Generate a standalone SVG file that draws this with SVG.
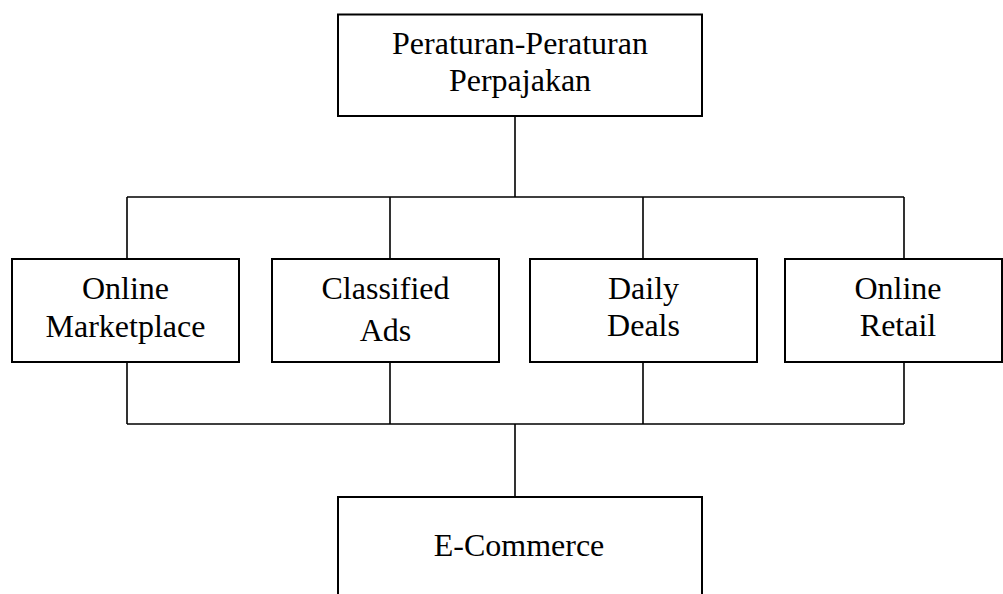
<svg xmlns="http://www.w3.org/2000/svg" width="1003" height="594" viewBox="0 0 1003 594">
<style>
.box{fill:#fff;stroke:#000;stroke-width:2}
.c{fill:none;stroke:#000;stroke-width:1.6}
text{font-family:"Liberation Serif","Times New Roman",serif;font-size:32px;fill:#000;text-anchor:middle}
</style>
<rect width="1003" height="594" fill="#fff"/>
<g id="connectors">
<path class="c" d="M515 116V197M127 197H904M127 197V259M390 197V259M643 197V259M904 197V259"/>
<path class="c" d="M127 362V424M390 362V424M643 362V424M904 362V424M127 424H904M515 424V497"/>
</g>
<g id="n-peraturan">
<rect class="box" x="338" y="14.5" width="364" height="101.5"/>
<text x="520" y="54">Peraturan-Peraturan</text>
<text x="520" y="91">Perpajakan</text>
</g>
<g id="n-marketplace">
<rect class="box" x="12" y="259" width="227" height="103"/>
<text x="125.5" y="299">Online</text>
<text x="125.5" y="336.5">Marketplace</text>
</g>
<g id="n-classified">
<rect class="box" x="272" y="259" width="227" height="103"/>
<text x="385.5" y="299">Classified</text>
<text x="385.5" y="341">Ads</text>
</g>
<g id="n-daily">
<rect class="box" x="530" y="259" width="227" height="103"/>
<text x="643.5" y="298.5">Daily</text>
<text x="643.5" y="336">Deals</text>
</g>
<g id="n-retail">
<rect class="box" x="785" y="259" width="217" height="103"/>
<text x="898" y="298.5">Online</text>
<text x="898" y="336">Retail</text>
</g>
<g id="n-ecommerce">
<rect class="box" x="338" y="497" width="364" height="120"/>
<text x="519" y="556">E-Commerce</text>
</g>
</svg>
